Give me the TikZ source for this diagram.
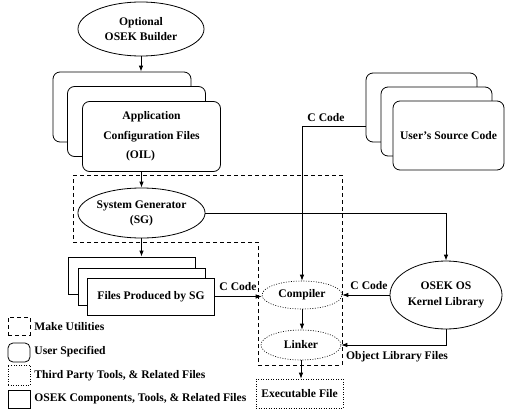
\documentclass[tikz,border=0pt]{standalone}
\usepackage{fontspec}
\setmainfont{Liberation Serif}
\usetikzlibrary{shapes.geometric,arrows.meta}
\begin{document}
\begin{tikzpicture}[x=1pt,y=-1pt,
  font=\fontsize{11.6}{14}\selectfont\bfseries,
  line width=0.8pt,
  ubox/.style={draw, fill=white, rounded corners=7pt, inner sep=0pt},
  sbox/.style={draw, fill=white, inner sep=0pt},
  oell/.style={draw, ellipse, inner sep=0pt, align=center},
  tell/.style={draw, ellipse, inner sep=0pt, align=center, dash pattern=on 1pt off 1.5pt, line width=0.6pt},
  tbox/.style={draw, inner sep=0pt, dash pattern=on 1pt off 1.5pt, line width=0.6pt},
  makeline/.style={dash pattern=on 4pt off 3pt, line width=0.7pt},
  arr/.style={-{Latex[length=6pt,width=4.5pt]}},
  lbl/.style={inner sep=0pt},
  lgtxt/.style={inner sep=0pt, anchor=west}]
\useasboundingbox (0,0) rectangle (505,412);

% Make utilities dashed region
\draw[makeline] (73,175) -- (342,175) -- (342,365) -- (258,365) -- (258,242) -- (73,242) -- cycle;

% Optional OSEK builder
\node[oell, minimum width=126pt, minimum height=54pt, font=\fontsize{11.6}{15}\selectfont\bfseries] (builder) at (141,29) {Optional\\OSEK Builder};

% Application configuration files stack
\node[ubox, minimum width=138pt, minimum height=70pt] (appback) at (122,107) {};
\node[ubox, minimum width=138pt, minimum height=70pt] (appmid) at (136.5,121.5) {};
\node[ubox, minimum width=138pt, minimum height=70pt, align=center, font=\fontsize{11.6}{19.5}\selectfont\bfseries] (appfront) at (151.5,136.5) {Application\\Configuration Files\\\hspace*{-22pt}(OIL)};

% User's source code stack
\node[ubox, minimum width=111pt, minimum height=69pt] (userback) at (421.5,107.5) {};
\node[ubox, minimum width=111pt, minimum height=69pt] (usermid) at (436.5,121.5) {};
\node[ubox, minimum width=111pt, minimum height=69pt] (userfront) at (448.5,135.5) {User's Source Code};

% System generator
\node[oell, minimum width=124pt, minimum height=50pt, font=\fontsize{11.6}{15}\selectfont\bfseries] (sg) at (141.5,213) {System Generator\\(SG)};

% Files produced by SG
\node[sbox, minimum width=127pt, minimum height=37pt] (filesback) at (131.5,275.5) {};
\node[sbox, minimum width=127pt, minimum height=37pt] (filesmid) at (141.5,286.5) {};
\node[sbox, minimum width=127pt, minimum height=37pt] (filesfront) at (151,296.5) {Files Produced by SG};

% Compiler, linker, executable
\node[tell, minimum width=80pt, minimum height=28pt] (compiler) at (302,295) {Compiler};
\node[tell, minimum width=80pt, minimum height=30pt] (linker) at (301,345) {Linker};
\node[tbox, minimum width=87pt, minimum height=29pt] (exec) at (299.5,393.5) {Executable File};

% OSEK OS kernel library
\node[oell, minimum width=112pt, minimum height=68pt, font=\fontsize{11.6}{16}\selectfont\bfseries] (kernel) at (446,295) {OSEK OS\\Kernel Library};

% Connectors
\draw[arr] (builder.south) -- (builder.south |- appback.north);
\draw[arr] (sg.north |- appfront.south) -- (sg.north);
\draw[arr] (sg.south) -- (sg.south |- filesback.north);
\draw[arr] (filesfront.east) -- (filesfront.east -| compiler.west);
\path (userback.west) ++(0,18.5) coordinate (uout);
\draw[arr] (uout) -| (compiler.north);
\draw[arr] (sg.east) -| (kernel.north);
\draw[arr] (kernel.west) -- (kernel.west -| compiler.east);
\draw[arr] (compiler.south) -- (compiler.south |- linker.north);
\draw[arr] (kernel.south) |- (linker.east);
\draw[arr] (linker.south) -- (linker.south |- exec.north);

% Connector labels
\node[lbl] (cc1) at (326,118) {C Code};
\node[lbl] (cc2) at (238,287) {C Code};
\node[lbl] (cc3) at (369,286) {C Code};
\node[lbl] (olf) at (397,357) {Object Library Files};

% Legend
\node[draw, makeline, minimum width=22pt, minimum height=18pt, inner sep=0pt] (lg1) at (19,326) {};
\node[lgtxt] (lg1t) at (34,327) {Make Utilities};
\node[ubox, rounded corners=5pt, minimum width=22pt, minimum height=19pt] (lg2) at (19,352.5) {};
\node[lgtxt] (lg2t) at (34,352) {User Specified};
\node[tbox, minimum width=22pt, minimum height=20pt] (lg3) at (19,375) {};
\node[lgtxt] (lg3t) at (34,376) {Third Party Tools, \& Related Files};
\node[sbox, minimum width=22pt, minimum height=18pt] (lg4) at (19,399) {};
\node[lgtxt] (lg4t) at (34,398.5) {OSEK Components, Tools, \& Related Files};
\end{tikzpicture}
\end{document}
